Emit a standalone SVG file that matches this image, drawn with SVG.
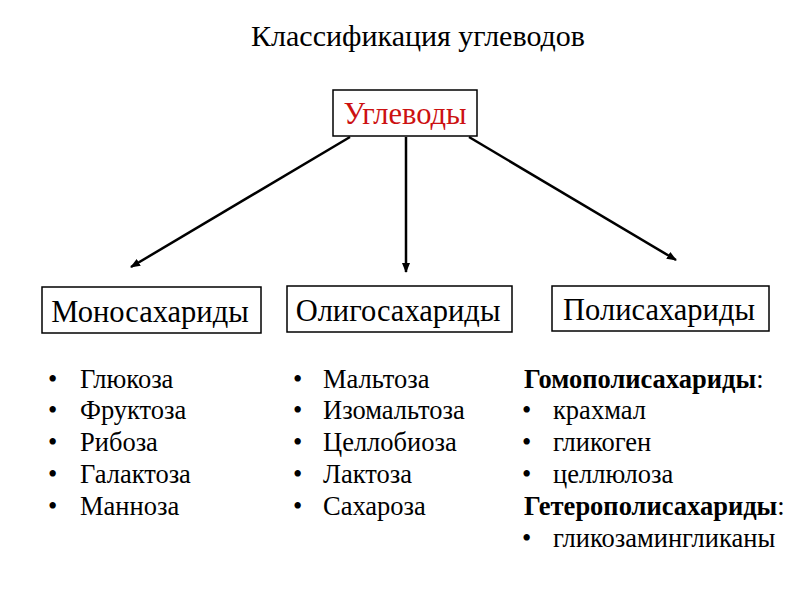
<svg xmlns="http://www.w3.org/2000/svg" width="800" height="600" viewBox="0 0 800 600">
<style>
text{font-family:"Liberation Serif","Times New Roman",serif;fill:#000}
.box{fill:#fff;stroke:#000;stroke-width:1.5}
.hdr{font-size:30.5px}
.li{font-size:26.5px}
.b{font-weight:bold}
.conn line{stroke:#000;stroke-width:2.5}
</style>
<defs>
<marker id="ah" viewBox="0 0 10 10" refX="9" refY="5" markerWidth="4" markerHeight="4" orient="auto" markerUnits="strokeWidth">
<path d="M0,1 L10,5 L0,9 Z" fill="#000"/>
</marker>
</defs>
<rect width="800" height="600" fill="#fff"/>
<text x="418" y="46" text-anchor="middle" font-size="30">Классификация углеводов</text>
<g class="conn">
<line x1="350" y1="137" x2="131" y2="267" marker-end="url(#ah)"/>
<line x1="406" y1="137" x2="406" y2="272" marker-end="url(#ah)"/>
<line x1="469" y1="137" x2="676" y2="260" marker-end="url(#ah)"/>
</g>
<g id="root">
<rect class="box" x="333" y="90" width="144" height="46"/>
<text class="hdr" x="405" y="124" text-anchor="middle" style="fill:#cc1111">Углеводы</text>
</g>
<g id="mono">
<rect class="box" x="42" y="287" width="219" height="46"/>
<text class="hdr" x="150" y="322" text-anchor="middle">Моносахариды</text>
</g>
<g id="oligo">
<rect class="box" x="287" y="286" width="225" height="46"/>
<text class="hdr" x="398" y="321" text-anchor="middle">Олигосахариды</text>
</g>
<g id="poly">
<rect class="box" x="552" y="286" width="217" height="45"/>
<text class="hdr" x="659" y="320" text-anchor="middle">Полисахариды</text>
</g>
<g id="mono-list">
<text x="48" y="388" class="li">•</text><text x="80" y="388" class="li">Глюкоза</text>
<text x="48" y="419" class="li">•</text><text x="80" y="419" class="li">Фруктоза</text>
<text x="48" y="451" class="li">•</text><text x="80" y="451" class="li">Рибоза</text>
<text x="48" y="483" class="li">•</text><text x="80" y="483" class="li">Галактоза</text>
<text x="48" y="515" class="li">•</text><text x="80" y="515" class="li">Манноза</text>
</g>
<g id="oligo-list">
<text x="293" y="388" class="li">•</text><text x="323" y="388" class="li">Мальтоза</text>
<text x="293" y="419" class="li">•</text><text x="323" y="419" class="li">Изомальтоза</text>
<text x="293" y="451" class="li">•</text><text x="323" y="451" class="li">Целлобиоза</text>
<text x="293" y="483" class="li">•</text><text x="323" y="483" class="li">Лактоза</text>
<text x="293" y="515" class="li">•</text><text x="323" y="515" class="li">Сахароза</text>
</g>
<g id="poly-list">
<text x="524" y="388" class="li"><tspan class="b">Гомополисахариды</tspan>:</text>
<text x="522" y="419" class="li">•</text><text x="553" y="419" class="li">крахмал</text>
<text x="522" y="451" class="li">•</text><text x="553" y="451" class="li">гликоген</text>
<text x="522" y="483" class="li">•</text><text x="553" y="483" class="li">целлюлоза</text>
<text x="524" y="515" class="li"><tspan class="b">Гетерополисахариды</tspan>:</text>
<text x="522" y="547" class="li">•</text><text x="553" y="547" class="li">гликозамингликаны</text>
</g>
</svg>
